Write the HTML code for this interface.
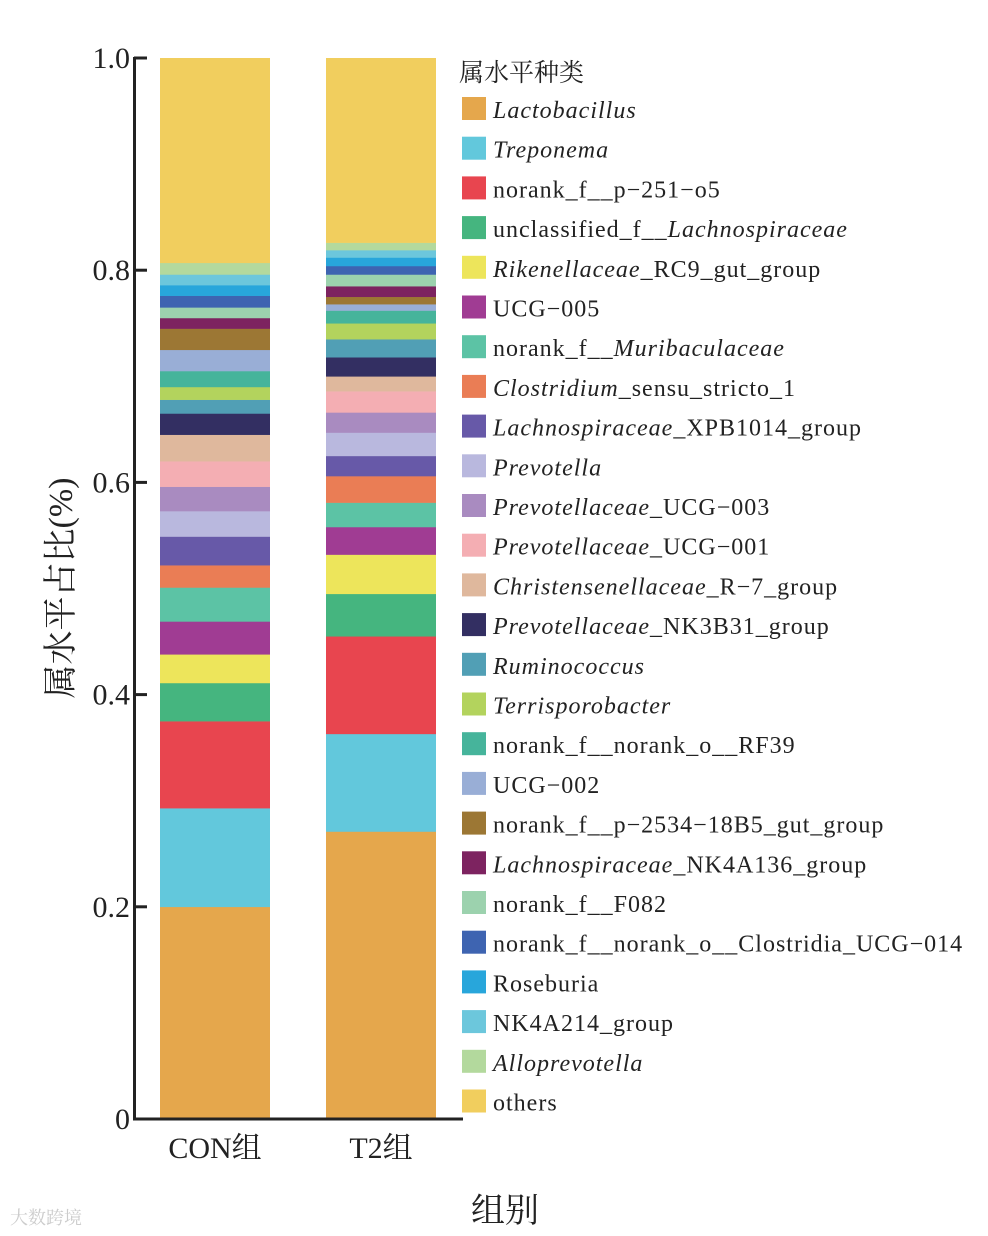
<!DOCTYPE html>
<html><head><meta charset="utf-8">
<style>
body{margin:0;background:#fff;}
svg{display:block;font-family:"Liberation Serif","Noto Serif CJK SC",serif;}
</style></head>
<body>
<svg id="chart" width="988" height="1236">
<g id="bars"></g>
<g id="axes"></g>
<g id="legend"></g>
<text x="505" y="1222" text-anchor="middle" font-size="34" fill="#222">组别</text>
<text transform="translate(72,588) rotate(-90)" text-anchor="middle" font-size="34" fill="#222">属水平占比(%)</text>
<text x="10" y="1224" font-size="18" fill="#ccc">大数跨境</text>
</svg>
<script>
const categories=["CON组","T2组"];
const genera=["Lactobacillus","Treponema","norank_f__p-251-o5","unclassified_f__Lachnospiraceae","Rikenellaceae_RC9_gut_group","UCG-005","norank_f__Muribaculaceae","Clostridium_sensu_stricto_1","Lachnospiraceae_XPB1014_group","Prevotella","Prevotellaceae_UCG-003","Prevotellaceae_UCG-001","Christensenellaceae_R-7_group","Prevotellaceae_NK3B31_group","Ruminococcus","Terrisporobacter","norank_f__norank_o__RF39","UCG-002","norank_f__p-2534-18B5_gut_group","Lachnospiraceae_NK4A136_group","norank_f__F082","norank_f__norank_o__Clostridia_UCG-014","Roseburia","NK4A214_group","Alloprevotella","others"];
const legendHTML=["<tspan font-style='italic'>Lactobacillus</tspan>","<tspan font-style='italic'>Treponema</tspan>","norank_f__p−251−o5","unclassified_f__<tspan font-style='italic'>Lachnospiraceae</tspan>","<tspan font-style='italic'>Rikenellaceae</tspan>_RC9_gut_group","UCG−005","norank_f__<tspan font-style='italic'>Muribaculaceae</tspan>","<tspan font-style='italic'>Clostridium</tspan>_sensu_stricto_1","<tspan font-style='italic'>Lachnospiraceae</tspan>_XPB1014_group","<tspan font-style='italic'>Prevotella</tspan>","<tspan font-style='italic'>Prevotellaceae</tspan>_UCG−003","<tspan font-style='italic'>Prevotellaceae</tspan>_UCG−001","<tspan font-style='italic'>Christensenellaceae</tspan>_R−7_group","<tspan font-style='italic'>Prevotellaceae</tspan>_NK3B31_group","<tspan font-style='italic'>Ruminococcus</tspan>","<tspan font-style='italic'>Terrisporobacter</tspan>","norank_f__norank_o__RF39","UCG−002","norank_f__p−2534−18B5_gut_group","<tspan font-style='italic'>Lachnospiraceae</tspan>_NK4A136_group","norank_f__F082","norank_f__norank_o__Clostridia_UCG−014","Roseburia","NK4A214_group","<tspan font-style='italic'>Alloprevotella</tspan>","others"];
const colors=["#e5a74c","#62c8dc","#e8454f","#45b57f","#ede55b","#a03c93","#5cc3a5","#ea7d55","#6759a8","#b9b8de","#a98bc0","#f4aeb3","#dfb89d","#332f62","#519fb5","#b3d35d","#46b49b","#99aed6","#9c7734","#7d2360","#9cd2ae","#3e64b1","#28a6db","#6cc7dc","#b3d99d","#f1ce5e"];
const conValues=[0.200,0.093,0.082,0.036,0.027,0.031,0.032,0.021,0.027,0.024,0.023,0.024,0.025,0.020,0.013,0.012,0.015,0.020,0.020,0.010,0.010,0.011,0.010,0.010,0.011,0.193];
const t2Values=[0.271,0.092,0.092,0.040,0.037,0.026,0.023,0.025,0.019,0.022,0.019,0.020,0.014,0.018,0.017,0.015,0.012,0.006,0.007,0.010,0.011,0.008,0.008,0.007,0.007,0.174];
const series=[conValues,t2Values];
const yTicks=[0,0.2,0.4,0.6,0.8,1.0];
const yTickLabels=["0","0.2","0.4","0.6","0.8","1.0"];
const NS="http://www.w3.org/2000/svg";
const y0=1119,yTop=58;
function yScale(v){return y0-v*(y0-yTop);}
const barX=[160,326],barW=110;
function mk(tag,attrs,parent){const e=document.createElementNS(NS,tag);for(const k in attrs)e.setAttribute(k,attrs[k]);parent.appendChild(e);return e;}
const bars=document.getElementById('bars');
series.forEach((vals,ci)=>{let cum=0;vals.forEach((v,i)=>{
  const r=mk('rect',{x:barX[ci],y:yScale(cum+v),width:barW,height:yScale(cum)-yScale(cum+v)+0.3,fill:colors[i]},bars);
  
  
  cum+=v;});
  const t=mk('text',{x:barX[ci]+barW/2,y:1158,'text-anchor':'middle','font-size':30,fill:'#222'},bars);
  t.textContent=categories[ci];
  
  
});
const axes=document.getElementById('axes');
const yl=mk('line',{x1:134.5,y1:yTop-1,x2:134.5,y2:y0+1.5,stroke:'#222','stroke-width':3},axes);


const xl=mk('line',{x1:133,y1:y0,x2:463,y2:y0,stroke:'#222','stroke-width':3},axes);


yTicks.forEach((v,i)=>{
  const tk=mk('line',{x1:134,y1:yScale(v),x2:147,y2:yScale(v),stroke:'#222','stroke-width':3},axes);
  
  
  const t=mk('text',{x:130,y:yScale(v)+10,'text-anchor':'end','font-size':30,fill:'#222'},axes);
  t.textContent=yTickLabels[i];
  
  
});
const lg=document.getElementById('legend');
const lt=mk('text',{x:459,y:81,'font-size':25,fill:'#222'},lg);
lt.textContent='属水平种类';


genera.forEach((g,i)=>{
  const cy=109+i*39.7;
  const s=mk('rect',{x:462,y:cy-12,width:24,height:23,fill:colors[i]},lg);
  
  
  const t=mk('text',{x:493,y:cy+9,'font-size':24,'letter-spacing':1,fill:'#222'},lg);
  t.innerHTML=legendHTML[i];
  
  
});
</script>
</body></html>
